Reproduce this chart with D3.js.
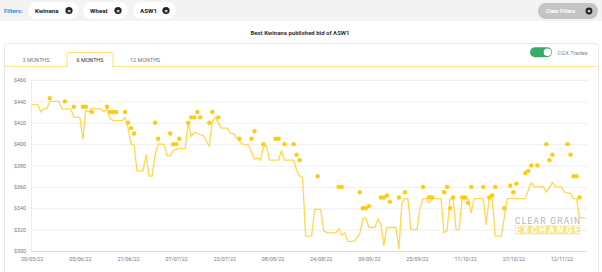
<!DOCTYPE html>
<meta charset="utf-8">
<script src="https://d3js.org/d3.v7.min.js"></script>
<style>
  body { margin: 0; background: #fff; font-family: Roboto, "Noto Sans", sans-serif; }
  svg { display: block; }
</style>
<body>
<div id="chart"></div>
<script>

// filter chips and tabs
var filters = ["Kwinana", "Wheat", "ASW1"];
var tabs = ["3 MONTHS", "6 MONTHS", "12 MONTHS"];

// best published bid (line)
var bidDates = ["2022-05-20","2022-05-22","2022-05-23","2022-05-24","2022-05-25","2022-05-26","2022-05-29","2022-05-30",
  "2022-06-02","2022-06-03","2022-06-05","2022-06-06","2022-06-07","2022-06-08","2022-06-09","2022-06-10","2022-06-12",
  "2022-06-13","2022-06-14","2022-06-15","2022-06-16","2022-06-19","2022-06-20","2022-06-21","2022-06-22","2022-06-23",
  "2022-06-24","2022-06-26","2022-06-27","2022-06-28","2022-06-29","2022-06-30","2022-07-01","2022-07-03","2022-07-04",
  "2022-07-05","2022-07-06","2022-07-08","2022-07-10","2022-07-11","2022-07-12","2022-07-13","2022-07-15","2022-07-16",
  "2022-07-18","2022-07-19","2022-07-20","2022-07-22","2022-07-24","2022-07-25","2022-07-26","2022-07-27","2022-07-29",
  "2022-07-31","2022-08-02","2022-08-03","2022-08-04","2022-08-05","2022-08-06","2022-08-07","2022-08-10","2022-08-11",
  "2022-08-12","2022-08-15","2022-08-16","2022-08-17","2022-08-18","2022-08-19","2022-08-21","2022-08-22","2022-08-24",
  "2022-08-25","2022-08-26","2022-08-29","2022-08-30","2022-08-31","2022-09-01","2022-09-02","2022-09-04","2022-09-06",
  "2022-09-07","2022-09-08","2022-09-09","2022-09-11","2022-09-12","2022-09-13","2022-09-14","2022-09-15","2022-09-18",
  "2022-09-19","2022-09-20","2022-09-21","2022-09-22","2022-09-23","2022-09-25","2022-09-26","2022-09-27","2022-09-28",
  "2022-09-29","2022-09-30","2022-10-03","2022-10-04","2022-10-05","2022-10-06","2022-10-07","2022-10-08","2022-10-09",
  "2022-10-10","2022-10-12","2022-10-13","2022-10-14","2022-10-17","2022-10-18","2022-10-19","2022-10-20","2022-10-21",
  "2022-10-23","2022-10-24","2022-10-25","2022-10-31","2022-11-01","2022-11-02","2022-11-03","2022-11-06","2022-11-07",
  "2022-11-09","2022-11-10","2022-11-12","2022-11-13","2022-11-15","2022-11-16","2022-11-17","2022-11-18","2022-11-20"];
var bidPrices = [437,437,430,433,433,440,440,433,
  433,425,425,405,432,430,434,433,433,
  430,433,424,422,422,425,415,400,399,
  375,375,390,370,370,390,400,400,389,
  389,394,396,396,420,407,411,409,408,
  398,421,425,415,415,410,410,406,400,
  399,386,387,385,398,398,385,385,394,
  385,385,376,370,369,314,314,339,339,
  319,317,317,321,315,317,309,309,316,
  330,331,322,322,330,325,305,322,322,
  302,345,349,349,320,320,340,349,349,
  345,349,349,317,319,349,349,320,320,
  349,349,336,349,349,325,349,349,314,
  314,331,349,349,357,364,360,360,355,
  364,360,360,355,354,349,349,331,331];

// CGX trades (dots)
var tradeDates = ["2022-05-26","2022-05-31","2022-06-03","2022-06-06","2022-06-07","2022-06-09","2022-06-14","2022-06-15",
  "2022-06-16","2022-06-17","2022-06-20","2022-06-21","2022-06-22","2022-06-23","2022-06-30","2022-07-01","2022-07-05",
  "2022-07-06","2022-07-07","2022-07-08","2022-07-11","2022-07-12","2022-07-13","2022-07-14","2022-07-15","2022-07-18",
  "2022-07-19","2022-07-21","2022-07-28","2022-08-01","2022-08-02","2022-08-05","2022-08-09","2022-08-10","2022-08-12",
  "2022-08-15","2022-08-16","2022-08-17","2022-08-23","2022-08-30","2022-08-31","2022-09-06","2022-09-07","2022-09-08",
  "2022-09-09","2022-09-13","2022-09-14","2022-09-15","2022-09-16","2022-09-19","2022-09-21","2022-09-27","2022-09-29",
  "2022-09-30","2022-10-04","2022-10-05","2022-10-06","2022-10-07","2022-10-10","2022-10-11","2022-10-12","2022-10-13",
  "2022-10-17","2022-10-19","2022-10-20","2022-10-21","2022-10-24","2022-10-26","2022-10-27","2022-10-28","2022-10-31",
  "2022-11-01","2022-11-02","2022-11-04","2022-11-07","2022-11-08","2022-11-09","2022-11-14","2022-11-15","2022-11-16",
  "2022-11-17","2022-11-18"];
var tradePrices = [443,440,435,435,435,430,435,430,
  430,430,430,420,415,410,420,405,410,
  400,400,405,420,425,425,430,425,420,
  430,425,405,405,412,400,405,405,400,
  400,390,385,370,360,360,355,340,340,
  342,350,350,352,346,350,355,360,350,
  350,355,360,340,350,350,350,345,360,
  360,350,352,360,340,361,355,363,373,
  375,380,380,400,385,390,400,390,370,
  370,350];

// axis ticks
var xTicks = ["2022-05-20","2022-06-05","2022-06-21","2022-07-07","2022-07-23","2022-08-08",
  "2022-08-24","2022-09-09","2022-09-25","2022-10-11","2022-10-27","2022-11-12"];
var yTicks = [300, 320, 340, 360, 380, 400, 420, 440, 460];

var W = 602, H = 272;
var parse = d3.timeParse("%Y-%m-%d");
var fmt = d3.timeFormat("%d/%m/%y");

var svg = d3.select("#chart").append("svg")
    .attr("width", W)
    .attr("height", H);

// ---- filter bar ----
svg.append("rect").attr("x", 0).attr("y", 0).attr("width", W).attr("height", 21).attr("fill", "#f3f3f3");
svg.append("text").attr("x", 4).attr("y", 12.8)
  .attr("fill", "#4a7ee6").style("font-size", "6px").style("font-weight", 700)
  .text("Filters:");

var chipX = [28, 83, 133], chipW = [51, 45, 43];
var chips = svg.selectAll(".chip").data(filters).enter().append("g")
  .attr("transform", function(d, i) { return "translate(" + chipX[i] + ",2)"; });
chips.append("rect").attr("width", function(d, i) { return chipW[i]; }).attr("height", 17)
  .attr("rx", 8.5).attr("fill", "#fff");
chips.append("text").attr("x", 7).attr("y", 10.8)
  .attr("fill", "#222").style("font-size", "6.2px").style("font-weight", 700)
  .text(function(d) { return d; });
chips.append("circle").attr("cx", function(d, i) { return chipW[i] - 10; }).attr("cy", 8.5).attr("r", 3.6).attr("fill", "#222");
chips.append("text").attr("x", function(d, i) { return chipW[i] - 10; }).attr("y", 10.6)
  .attr("text-anchor", "middle").attr("fill", "#fff").style("font-size", "6px").style("font-weight", 700).text("×");

// clear filters
svg.append("rect").attr("x", 538).attr("y", 3).attr("width", 60).attr("height", 16).attr("rx", 8).attr("fill", "#c4c4c4");
svg.append("text").attr("x", 546).attr("y", 12.9)
  .attr("fill", "#fff").style("font-size", "5.4px").style("font-weight", 700).text("Clear Filters");
svg.append("circle").attr("cx", 589).attr("cy", 11).attr("r", 3.4).attr("fill", "#222");
svg.append("text").attr("x", 589).attr("y", 13).attr("text-anchor", "middle")
  .attr("fill", "#fff").style("font-size", "5.6px").style("font-weight", 700).text("×");

// ---- title ----
svg.append("text").attr("x", 300).attr("y", 35)
  .attr("text-anchor", "middle").attr("fill", "#333")
  .style("font-size", "6px").style("font-weight", 700)
  .text("Best Kwinana published bid of ASW1");

// ---- card ----
svg.append("rect").attr("x", 4.5).attr("y", 43.5).attr("width", 594).attr("height", 240)
  .attr("rx", 3).attr("fill", "#fff").attr("stroke", "#e8e8e8");

// tabs
var tabX = [36, 90, 145];
svg.append("line").attr("x1", 5).attr("x2", 598).attr("y1", 66.5).attr("y2", 66.5)
  .attr("stroke", "#ffe78a").attr("stroke-width", 1);
svg.append("path")
  .attr("d", "M67,67 V54.5 Q67,52.5 69,52.5 H111 Q113,52.5 113,54.5 V67")
  .attr("fill", "#fff").attr("stroke", "#ffe07a");
svg.selectAll(".tab").data(tabs).enter().append("text")
  .attr("x", function(d, i) { return tabX[i]; }).attr("y", 61.5)
  .attr("text-anchor", "middle")
  .attr("fill", function(d, i) { return i === 1 ? "#333" : "#777"; })
  .style("font-size", "5.4px")
  .text(function(d) { return d; });

// toggle
svg.append("rect").attr("x", 530).attr("y", 47.3).attr("width", 22).attr("height", 10).attr("rx", 5).attr("fill", "#3aaa6a");
svg.append("circle").attr("cx", 547.5).attr("cy", 52.3).attr("r", 3.8).attr("fill", "#fff");
svg.append("text").attr("x", 557.5).attr("y", 54.5).attr("fill", "#888")
  .style("font-size", "5.8px").text("CGX Trades");

// ---- plot ----
var x = d3.scaleTime()
  .domain([parse("2022-05-20"), parse("2022-11-20")])
  .range([31.7, 585.5]);
var y = d3.scaleLinear()
  .domain([300, 460])
  .range([251, 80]);

// horizontal grid
svg.append("g").selectAll("line").data(yTicks).enter().append("line")
  .attr("x1", 31).attr("x2", 587)
  .attr("y1", function(d) { return y(d) + 0.5; })
  .attr("y2", function(d) { return y(d) + 0.5; })
  .attr("stroke", function(d) { return d === 300 ? "#dcdcdc" : "#efefef"; });

svg.append("line").attr("x1", 31.5).attr("x2", 31.5).attr("y1", 80).attr("y2", 251)
  .attr("stroke", "#ececec");

var yAxis = svg.append("g")
  .attr("transform", "translate(31,0)")
  .call(d3.axisLeft(y).tickValues(yTicks).tickSize(0).tickPadding(5)
    .tickFormat(function(d) { return "$" + d; }));
yAxis.select(".domain").remove();
yAxis.selectAll("text").attr("fill", "#777").style("font-size", "5.3px").style("font-family", "Roboto");

var xAxis = svg.append("g")
  .attr("transform", "translate(0,251)")
  .call(d3.axisBottom(x).tickValues(xTicks.map(parse)).tickSize(0).tickPadding(6.5).tickFormat(fmt));
xAxis.select(".domain").remove();
xAxis.selectAll("text").attr("fill", "#777").style("font-size", "5.3px").style("font-family", "Roboto");

// watermark
svg.append("text").attr("x", 515).attr("y", 224.3)
  .attr("fill", "#b4b4b4").style("font-size", "8.4px")
  .attr("textLength", 65).attr("lengthAdjust", "spacing")
  .text("CLEAR GRAIN");
svg.append("rect").attr("x", 515).attr("y", 225.5).attr("width", 65).attr("height", 8.8).attr("fill", "#fbe58a");
svg.append("text").attr("x", 515.5).attr("y", 233.4)
  .attr("fill", "#fff").style("font-size", "8.8px").style("font-weight", 700)
  .attr("textLength", 64).attr("lengthAdjust", "spacing")
  .text("EXCHANGE");

// bid line
var bids = bidDates.map(function(d, i) { return { date: parse(d), price: bidPrices[i] }; });
var line = d3.line()
  .x(function(d) { return x(d.date); })
  .y(function(d) { return y(d.price); });
svg.append("path")
  .datum(bids)
  .attr("d", line)
  .attr("fill", "none")
  .attr("stroke", "#ffd84d")
  .attr("stroke-width", 1.3)
  .attr("stroke-linejoin", "round");

// trade dots
var trades = tradeDates.map(function(d, i) { return { date: parse(d), price: tradePrices[i] }; });
svg.append("g").selectAll("circle")
  .data(trades)
  .enter()
  .append("circle")
    .attr("cx", function(d) { return x(d.date); })
    .attr("cy", function(d) { return y(d.price); })
    .attr("r", 2.2)
    .style("fill", "#ffcc0f");

</script>
</body>
